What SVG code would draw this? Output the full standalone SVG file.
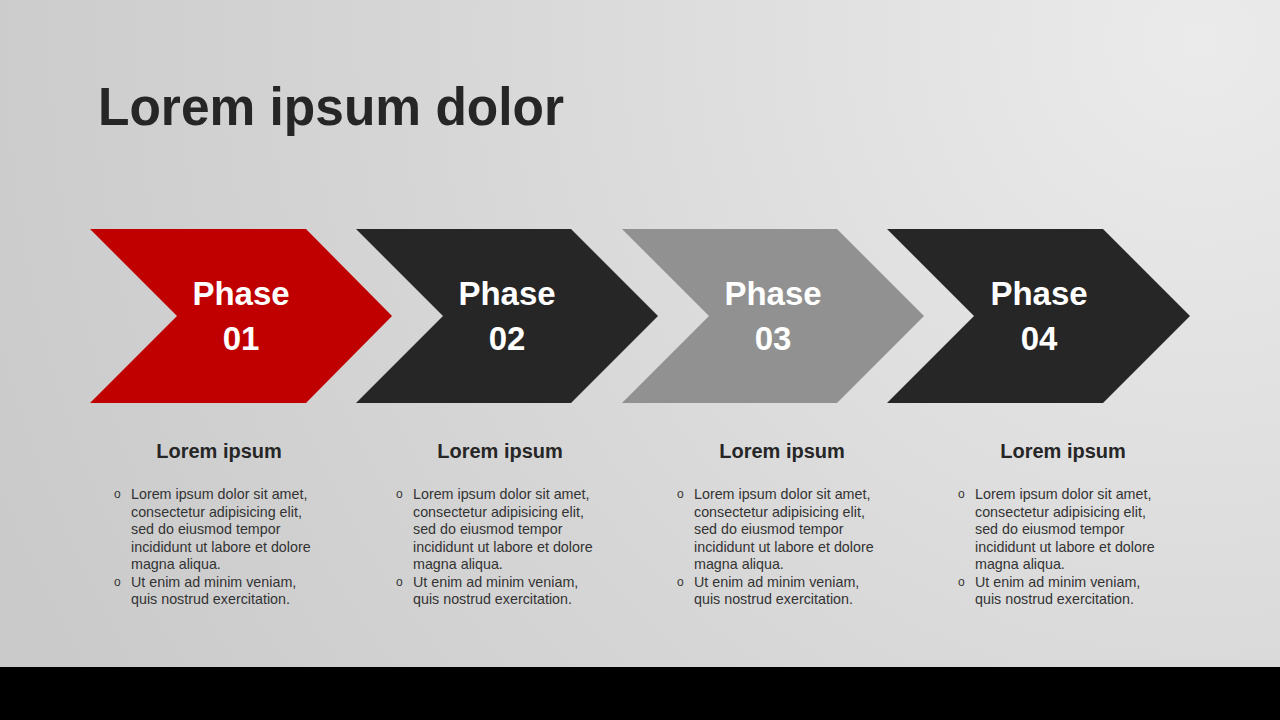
<svg xmlns="http://www.w3.org/2000/svg" width="1280" height="720" viewBox="0 0 1280 720">
<defs>
<radialGradient id="bg" cx="1200" cy="40" r="1300" gradientUnits="userSpaceOnUse">
<stop offset="0" stop-color="#ebebeb"/>
<stop offset="0.6" stop-color="#d6d6d6"/>
<stop offset="1" stop-color="#cacaca"/>
</radialGradient>
<style>
.title{font-family:"Liberation Sans",Arial,sans-serif;font-weight:bold;font-size:53px;fill:#262626}
.ph{font-family:"Liberation Sans",Arial,sans-serif;font-weight:bold;font-size:33px;fill:#ffffff;text-anchor:middle}
.sub{font-family:"Liberation Sans",Arial,sans-serif;font-weight:bold;font-size:20px;fill:#262626;text-anchor:middle}
.body{font-family:"Liberation Sans",Arial,sans-serif;font-size:14.3px;fill:#333333}
.bul{font-family:"Liberation Sans",Arial,sans-serif;font-size:12px;fill:#333333}
</style>
</defs>
<rect width="1280" height="720" fill="url(#bg)"/>
<rect x="0" y="667" width="1280" height="53" fill="#000000"/>
<text class="title" x="98" y="125" textLength="466" lengthAdjust="spacingAndGlyphs">Lorem ipsum dolor</text>

<g id="phase1">
<polygon points="90,229 306,229 392,316 306,403 90,403 177,316" fill="#c00000"/>
<text class="ph" x="241" y="305">Phase</text>
<text class="ph" x="241" y="350">01</text>
</g>
<g id="phase2">
<polygon points="356,229 571,229 658,316 571,403 356,403 443,316" fill="#262626"/>
<text class="ph" x="507" y="305">Phase</text>
<text class="ph" x="507" y="350">02</text>
</g>
<g id="phase3">
<polygon points="622,229 837,229 924,316 837,403 622,403 709,316" fill="#919191"/>
<text class="ph" x="773" y="305">Phase</text>
<text class="ph" x="773" y="350">03</text>
</g>
<g id="phase4">
<polygon points="887,229 1103,229 1190,316 1103,403 887,403 974,316" fill="#262626"/>
<text class="ph" x="1039" y="305">Phase</text>
<text class="ph" x="1039" y="350">04</text>
</g>

<g id="desc1">
<text class="sub" x="219" y="458">Lorem ipsum</text>
<text class="bul" x="114" y="498">o</text>
<text class="bul" x="114" y="586">o</text>
<text class="body" x="131" y="499">Lorem ipsum dolor sit amet,</text>
<text class="body" x="131" y="516.5">consectetur adipisicing elit,</text>
<text class="body" x="131" y="534">sed do eiusmod tempor</text>
<text class="body" x="131" y="551.5">incididunt ut labore et dolore</text>
<text class="body" x="131" y="569">magna aliqua.</text>
<text class="body" x="131" y="586.5">Ut enim ad minim veniam,</text>
<text class="body" x="131" y="604">quis nostrud exercitation.</text>
</g>
<g id="desc2">
<text class="sub" x="500" y="458">Lorem ipsum</text>
<text class="bul" x="396" y="498">o</text>
<text class="bul" x="396" y="586">o</text>
<text class="body" x="413" y="499">Lorem ipsum dolor sit amet,</text>
<text class="body" x="413" y="516.5">consectetur adipisicing elit,</text>
<text class="body" x="413" y="534">sed do eiusmod tempor</text>
<text class="body" x="413" y="551.5">incididunt ut labore et dolore</text>
<text class="body" x="413" y="569">magna aliqua.</text>
<text class="body" x="413" y="586.5">Ut enim ad minim veniam,</text>
<text class="body" x="413" y="604">quis nostrud exercitation.</text>
</g>
<g id="desc3">
<text class="sub" x="782" y="458">Lorem ipsum</text>
<text class="bul" x="677" y="498">o</text>
<text class="bul" x="677" y="586">o</text>
<text class="body" x="694" y="499">Lorem ipsum dolor sit amet,</text>
<text class="body" x="694" y="516.5">consectetur adipisicing elit,</text>
<text class="body" x="694" y="534">sed do eiusmod tempor</text>
<text class="body" x="694" y="551.5">incididunt ut labore et dolore</text>
<text class="body" x="694" y="569">magna aliqua.</text>
<text class="body" x="694" y="586.5">Ut enim ad minim veniam,</text>
<text class="body" x="694" y="604">quis nostrud exercitation.</text>
</g>
<g id="desc4">
<text class="sub" x="1063" y="458">Lorem ipsum</text>
<text class="bul" x="958" y="498">o</text>
<text class="bul" x="958" y="586">o</text>
<text class="body" x="975" y="499">Lorem ipsum dolor sit amet,</text>
<text class="body" x="975" y="516.5">consectetur adipisicing elit,</text>
<text class="body" x="975" y="534">sed do eiusmod tempor</text>
<text class="body" x="975" y="551.5">incididunt ut labore et dolore</text>
<text class="body" x="975" y="569">magna aliqua.</text>
<text class="body" x="975" y="586.5">Ut enim ad minim veniam,</text>
<text class="body" x="975" y="604">quis nostrud exercitation.</text>
</g>
<g id="connectors"/>
</svg>
